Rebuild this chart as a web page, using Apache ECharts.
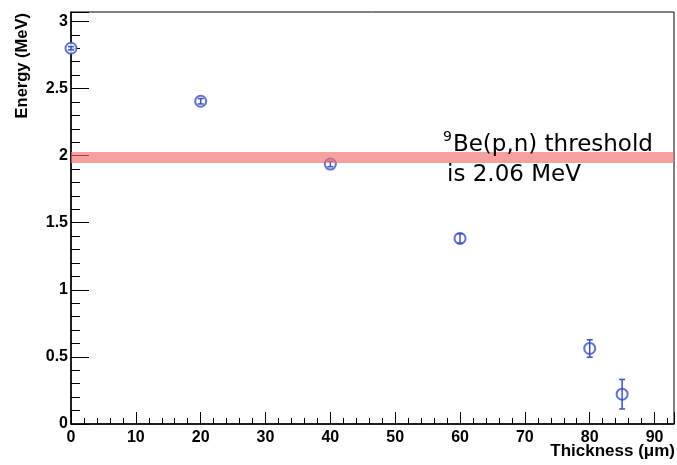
<!DOCTYPE html>
<html lang="en">

<head>
  <meta charset="UTF-8">
  <title>Energy vs Thickness</title>
  <script src="https://cdn.jsdelivr.net/npm/echarts@6.0.0/dist/echarts.min.js"></script>
  <style>
    body {
      margin: 0;
      padding: 0;
      background-color: #ffffff;
    }

    #chart {
      width: 677px;
      height: 465px;
    }
  </style>
</head>

<body>
  <div id="chart"></div>

  <script>
    // thickness (um) and energy (MeV)
    const thickness = [0, 20, 40, 60, 80, 85];
    const energy = [2.80, 2.405, 1.937, 1.383, 0.563, 0.222];
    const energyErr = [0.012, 0.02, 0.02, 0.035, 0.065, 0.11];
    const threshold = [1.985];

    const points = thickness.map((t, i) => [t, energy[i], energyErr[i]]);
    const blue = '#3b50c6';

    const chart = echarts.init(document.getElementById('chart'));

    const option = {
      animation: false,
      grid: {
        left: 71,
        right: 3,
        top: 12,
        bottom: 41,
        show: true,
        borderColor: '#000',
        borderWidth: 1
      },
      xAxis: {
        type: 'value',
        min: 0,
        max: 93,
        interval: 10,
        axisLine: { lineStyle: { color: '#000', width: 1.5 } },
        axisTick: { inside: true, length: 12, lineStyle: { color: '#000' } },
        minorTick: { show: true, splitNumber: 5, length: 6, lineStyle: { color: '#000' } },
        splitLine: { show: false },
        axisLabel: {
          showMaxLabel: false,
          color: '#000',
          fontFamily: 'Liberation Sans',
          fontWeight: 'bold',
          fontSize: 16,
          margin: 6
        }
      },
      yAxis: {
        type: 'value',
        min: 0,
        max: 3.07,
        interval: 0.5,
        axisLine: { show: true, lineStyle: { color: '#000', width: 1.5 } },
        axisTick: { show: true, inside: true, length: 18, lineStyle: { color: '#000' } },
        minorTick: { show: true, splitNumber: 5, length: 9, lineStyle: { color: '#000' } },
        splitLine: { show: false },
        axisLabel: {
          showMaxLabel: false,
          color: '#000',
          fontFamily: 'Liberation Sans',
          fontWeight: 'bold',
          fontSize: 16,
          margin: 3
        }
      },
      graphic: [
        {
          type: 'text',
          x: 22,
          y: 13,
          rotation: Math.PI / 2,
          style: {
            text: 'Energy (MeV)',
            font: 'bold 16.5px "Liberation Sans"',
            fill: '#000',
            align: 'right',
            verticalAlign: 'middle'
          }
        },
        {
          type: 'text',
          right: 2,
          top: 443,
          style: {
            text: 'Thickness (\u03bcm)',
            font: 'bold 17px "Liberation Sans"',
            fill: '#000'
          }
        },
        {
          type: 'text',
          left: 443,
          top: 130,
          z: 10,
          style: {
            text: '{sup|9}{t|Be(p,n) threshold}\n{pad|}{t|is 2.06 MeV}',
            rich: {
              sup: { fontSize: 14, fontFamily: 'DejaVu Sans', fill: '#000', verticalAlign: 'top', padding: [0, 1, 10, 0] },
              pad: { width: 4 },
              t: { fontSize: 23, fontFamily: 'DejaVu Sans', fill: '#000', lineHeight: 30 }
            }
          }
        }
      ],
      series: [
        {
          // threshold band
          type: 'line',
          data: [],
          z: 1,
          markLine: {
            silent: true,
            symbol: 'none',
            label: { show: false },
            lineStyle: { color: 'rgba(240,110,110,0.65)', width: 11, type: 'solid' },
            data: threshold.map(v => ({ yAxis: v }))
          }
        },
        {
          type: 'scatter',
          z: 3,
          symbol: 'emptyCircle',
          symbolSize: 11,
          itemStyle: { color: blue, borderColor: blue, borderWidth: 1.5 },
          data: points.map(p => [p[0], p[1]])
        },
        {
          // error bars, drawn through the open markers
          type: 'custom',
          z: 4,
          data: points,
          renderItem: function (params, api) {
            const x = api.value(0);
            const y = api.value(1);
            const e = api.value(2);
            const hi = api.coord([x, y + e]);
            const lo = api.coord([x, y - e]);
            const cap = 3;
            const style = { stroke: blue, lineWidth: 1.5 };
            return {
              type: 'group',
              children: [
                { type: 'line', shape: { x1: hi[0], y1: hi[1], x2: lo[0], y2: lo[1] }, style: style },
                { type: 'line', shape: { x1: hi[0] - cap, y1: hi[1], x2: hi[0] + cap, y2: hi[1] }, style: style },
                { type: 'line', shape: { x1: lo[0] - cap, y1: lo[1], x2: lo[0] + cap, y2: lo[1] }, style: style }
              ]
            };
          }
        }
      ]
    };

    chart.setOption(option);
  </script>
</body>

</html>
